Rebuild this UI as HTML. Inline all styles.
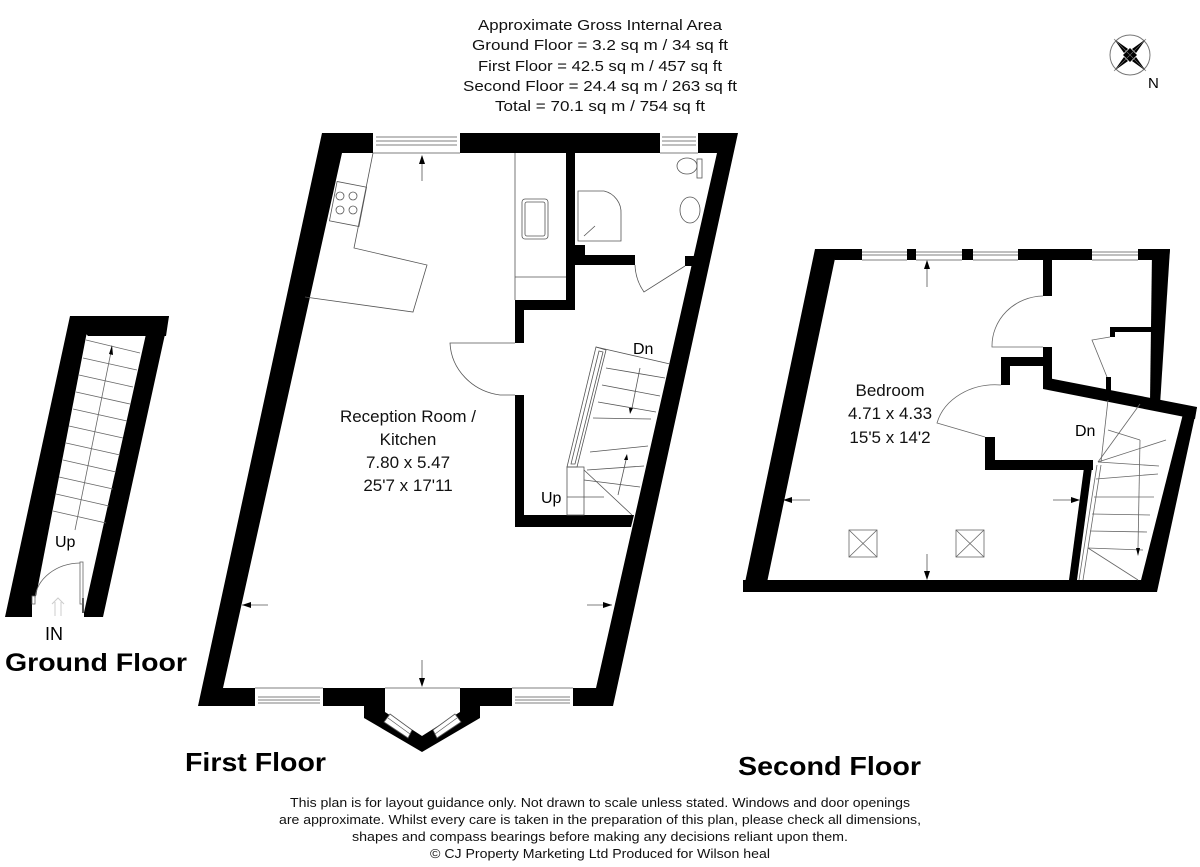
<!DOCTYPE html>
<html><head><meta charset="utf-8"><style>
html,body{margin:0;padding:0;background:#fff;}
svg{display:block;font-family:"Liberation Sans",Arial,sans-serif;}
</style></head><body>
<svg width="1200" height="867" viewBox="0 0 1200 867" xmlns="http://www.w3.org/2000/svg">
<rect width="1200" height="867" fill="#fff"/>

<!-- Header -->
<g font-size="15" text-anchor="middle" fill="#111">
<text x="600" y="30" textLength="244" lengthAdjust="spacingAndGlyphs">Approximate Gross Internal Area</text>
<text x="600" y="50" textLength="256" lengthAdjust="spacingAndGlyphs">Ground Floor = 3.2 sq m / 34 sq ft</text>
<text x="600" y="71" textLength="244" lengthAdjust="spacingAndGlyphs">First Floor = 42.5 sq m / 457 sq ft</text>
<text x="600" y="91" textLength="274" lengthAdjust="spacingAndGlyphs">Second Floor = 24.4 sq m / 263 sq ft</text>
<text x="600" y="111" textLength="210" lengthAdjust="spacingAndGlyphs">Total = 70.1 sq m / 754 sq ft</text>
</g>

<!-- Compass -->
<g transform="translate(1130,55)">
<circle r="20" fill="none" stroke="#777" stroke-width="1"/>
<polygon points="-16,-16 -2,-6 -6,-2" fill="#000"/>
<polygon points="16,-16 6,-2 2,-6" fill="#000"/>
<polygon points="16,16 2,6 6,2" fill="#000"/>
<polygon points="-16,16 -6,2 -2,6" fill="#000"/>
<polygon points="0,-7 7,0 0,7 -7,0" fill="#000"/>
<g stroke="#777" stroke-width="0.6"><line x1="-16" y1="-16" x2="16" y2="16"/><line x1="16" y1="-16" x2="-16" y2="16"/></g>
<text x="18" y="33" font-size="15">N</text>
</g>

<!-- ================= FIRST FLOOR ================= -->
<path fill-rule="evenodd" fill="#000" d="M322,133 L738,133 L613,706 L198,706 Z M342,153 L717,153 L596,688 L223,688 Z"/>
<!-- top windows -->
<rect x="373" y="133" width="87" height="20" fill="#fff"/>
<g stroke="#555" stroke-width="0.8"><line x1="376" y1="137" x2="457" y2="137"/><line x1="376" y1="141" x2="457" y2="141"/><line x1="376" y1="145" x2="457" y2="145"/><line x1="373" y1="153" x2="460" y2="153"/></g>
<rect x="660" y="133" width="38" height="20" fill="#fff"/>
<g stroke="#555" stroke-width="0.8"><line x1="662" y1="137" x2="696" y2="137"/><line x1="662" y1="141" x2="696" y2="141"/><line x1="662" y1="145" x2="696" y2="145"/><line x1="660" y1="153" x2="698" y2="153"/></g>
<!-- bottom windows -->
<rect x="255" y="688" width="68" height="18" fill="#fff"/>
<g stroke="#555" stroke-width="0.8"><line x1="255" y1="688" x2="323" y2="688"/><line x1="258" y1="697" x2="320" y2="697"/><line x1="258" y1="700" x2="320" y2="700"/><line x1="258" y1="703" x2="320" y2="703"/></g>
<rect x="512" y="688" width="61" height="18" fill="#fff"/>
<g stroke="#555" stroke-width="0.8"><line x1="512" y1="688" x2="573" y2="688"/><line x1="515" y1="697" x2="570" y2="697"/><line x1="515" y1="700" x2="570" y2="700"/><line x1="515" y1="703" x2="570" y2="703"/></g>
<!-- bay -->
<path fill-rule="evenodd" fill="#000" d="M364,706 L480,706 L480,718 L422,752 L364,718 Z M385,706 L460,706 L460,712 L422,736 L385,712 Z"/>
<rect x="385" y="686" width="75" height="21" fill="#fff"/>
<line x1="385" y1="688" x2="460" y2="688" stroke="#555" stroke-width="0.8"/>
<polygon points="390,714 412,730 408,738 384,722" fill="#fff" stroke="#555" stroke-width="0.8"/>
<polygon points="455,714 433,730 437,738 461,722" fill="#fff" stroke="#555" stroke-width="0.8"/>
<line x1="388" y1="718" x2="410" y2="734" stroke="#555" stroke-width="0.6"/>
<line x1="457" y1="718" x2="435" y2="734" stroke="#555" stroke-width="0.6"/>

<!-- interior walls -->
<g fill="#000">
<rect x="566" y="153" width="9" height="157"/>
<rect x="515" y="300" width="60" height="10"/>
<rect x="515" y="300" width="9" height="43"/>
<rect x="515" y="395" width="9" height="132"/>
<polygon points="515,515 634,515 631,527 515,527"/>
<rect x="575" y="255" width="60" height="10"/>
<rect x="575" y="245" width="10" height="15"/>
<rect x="685" y="256" width="14" height="10"/>
</g>
<!-- kitchen units -->
<g fill="none" stroke="#555" stroke-width="0.8">
<polyline points="373,153 354,248 427,265 413,312 305,297"/>
<rect x="333" y="184" width="30" height="40" transform="rotate(11 348 204)"/>
<circle cx="340" cy="196" r="4"/><circle cx="353" cy="196" r="4"/><circle cx="340" cy="210" r="4"/><circle cx="353" cy="210" r="4"/>
<line x1="515" y1="153" x2="515" y2="300"/>
<line x1="515" y1="277" x2="566" y2="277"/>
<rect x="522" y="199" width="26" height="40" rx="3"/>
<rect x="525" y="202" width="20" height="34" rx="2"/>
<path d="M578,191 L604,191 A22,22 0 0 1 621,214 L621,241 L578,241 Z"/>
<line x1="584" y1="236" x2="595" y2="226"/>
<ellipse cx="687" cy="166" rx="10" ry="8"/>
<rect x="697" y="159" width="5" height="19"/>
<ellipse cx="690" cy="210" rx="10" ry="13"/>
<path d="M635,265 A50,50 0 0 0 644,292 L685,266"/>
<path d="M515,343 L450,343 A58,55 0 0 0 500,395 L515,395"/>
</g>
<!-- stairs first floor -->
<g fill="none" stroke="#555" stroke-width="0.8">
<polygon points="596,347 606,350 577,467 567,467"/>
<polygon points="599,351 603,352 575,464 571,464"/>
<line x1="596" y1="347" x2="670" y2="364"/>
<line x1="606" y1="368" x2="665" y2="378"/>
<line x1="602" y1="385" x2="660" y2="396"/>
<line x1="598" y1="402" x2="656" y2="412"/>
<line x1="593" y1="418" x2="651" y2="419"/>
<line x1="590" y1="452" x2="648" y2="446"/>
<line x1="587" y1="470" x2="644" y2="466"/>
<line x1="584" y1="480" x2="640" y2="487"/>
<rect x="567" y="467" width="17" height="48"/>
<line x1="567" y1="497" x2="604" y2="497"/>
<line x1="584" y1="470" x2="632" y2="515"/>
<line x1="640" y1="368" x2="632" y2="408"/>
<line x1="618" y1="495" x2="626" y2="460"/>
</g>
<polygon points="629,408 633,408 630,414" fill="#000"/>
<polygon points="624,460 628,460 627,454" fill="#000"/>
<text x="633" y="354" font-size="16">Dn</text>
<text x="541" y="503" font-size="16">Up</text>
<!-- arrows -->
<g stroke="#555" stroke-width="0.8"><line x1="422" y1="160" x2="422" y2="181"/><line x1="242" y1="605" x2="268" y2="605"/><line x1="587" y1="605" x2="612" y2="605"/><line x1="422" y1="660" x2="422" y2="684"/></g>
<g fill="#000"><polygon points="422,155 419,164 425,164"/><polygon points="242,605 251,602 251,608"/><polygon points="612,605 603,602 603,608"/><polygon points="422,687 419,678 425,678"/></g>
<g font-size="17" text-anchor="middle" fill="#111">
<text x="408" y="422">Reception Room /</text>
<text x="408" y="445">Kitchen</text>
<text x="408" y="468">7.80 x 5.47</text>
<text x="408" y="491">25'7 x 17'11</text>
</g>
<text x="185" y="771" font-size="26" font-weight="bold" textLength="141" lengthAdjust="spacingAndGlyphs">First Floor</text>

<!-- ================= GROUND FLOOR ================= -->
<g fill="#000">
<polygon points="70,316 169,316 166,336 88,336"/>
<polygon points="70,316 90,316 32,617 5,617"/>
<polygon points="150,316 169,316 103,617 83,617"/>
</g>
<rect x="32" y="596" width="52" height="22" fill="#fff"/>
<rect x="82" y="598" width="2" height="15" fill="#555"/>
<g fill="none" stroke="#666" stroke-width="0.8">
<rect x="32" y="596" width="3" height="8"/>
<rect x="80" y="562" width="3" height="42"/>
<path d="M35,598 A46,38 0 0 1 80,563"/>
<line x1="86" y1="340" x2="140" y2="353"/>
<line x1="83" y1="358" x2="137" y2="370"/>
<line x1="79" y1="375" x2="133" y2="387"/>
<line x1="76" y1="392" x2="130" y2="404"/>
<line x1="73" y1="409" x2="127" y2="421"/>
<line x1="69" y1="426" x2="123" y2="438"/>
<line x1="66" y1="443" x2="120" y2="455"/>
<line x1="63" y1="460" x2="116" y2="472"/>
<line x1="59" y1="477" x2="113" y2="489"/>
<line x1="56" y1="494" x2="109" y2="506"/>
<line x1="53" y1="511" x2="106" y2="523"/>
<line x1="75" y1="530" x2="111" y2="352"/>
</g>
<polygon points="112,345 109,354 113,355" fill="#000"/>
<g fill="none" stroke="#ccc" stroke-width="1"><polyline points="52,604 58,598 64,604"/><line x1="55" y1="602" x2="55" y2="616"/><line x1="61" y1="602" x2="61" y2="616"/></g>
<text x="55" y="547" font-size="16">Up</text>
<text x="45" y="640" font-size="18">IN</text>
<text x="5" y="671" font-size="25" font-weight="bold" textLength="182" lengthAdjust="spacingAndGlyphs">Ground Floor</text>

<!-- ================= SECOND FLOOR ================= -->
<g fill="#000">
<polygon points="815,249 1170,249 1169,260 835,260"/>
<polygon points="815,249 837,249 765,592 743,592"/>
<rect x="743" y="580" width="414" height="12"/>
<polygon points="1152,252 1170,249 1160,405 1150,402"/>
<polygon points="1043,377 1197,407 1195,419 1043,389"/>
<polygon points="1184,410 1197,407 1157,592 1138,592"/>
<rect x="1043" y="260" width="9" height="36"/>
<rect x="1043" y="347" width="9" height="36"/>
<rect x="1001" y="357" width="48" height="9"/>
<rect x="1001" y="357" width="9" height="28"/>
<rect x="985" y="437" width="10" height="33"/>
<rect x="985" y="460" width="108" height="10"/>
<polygon points="1085,460 1093,460 1077,580 1069,580"/>
<rect x="1110" y="327" width="44" height="5"/>
<rect x="1110" y="327" width="5" height="10"/>
<rect x="1106" y="377" width="5" height="14"/>
</g>
<!-- windows second -->
<g>
<rect x="862" y="249" width="45" height="11" fill="#fff"/>
<rect x="916" y="249" width="46" height="11" fill="#fff"/>
<rect x="973" y="249" width="45" height="11" fill="#fff"/>
<rect x="1092" y="249" width="46" height="11" fill="#fff"/>
<g stroke="#555" stroke-width="0.7">
<line x1="862" y1="252" x2="907" y2="252"/><line x1="862" y1="255" x2="907" y2="255"/><line x1="862" y1="260" x2="907" y2="260"/>
<line x1="916" y1="252" x2="962" y2="252"/><line x1="916" y1="255" x2="962" y2="255"/><line x1="916" y1="260" x2="962" y2="260"/>
<line x1="973" y1="252" x2="1018" y2="252"/><line x1="973" y1="255" x2="1018" y2="255"/><line x1="973" y1="260" x2="1018" y2="260"/>
<line x1="1092" y1="252" x2="1138" y2="252"/><line x1="1092" y1="255" x2="1138" y2="255"/><line x1="1092" y1="260" x2="1138" y2="260"/>
</g>
</g>
<g fill="none" stroke="#666" stroke-width="0.8">
<path d="M1043,296 A52,50 0 0 0 992,347 L1043,347"/>
<path d="M1001,385 A60,50 0 0 0 937,423 L985,437"/>
<path d="M1110,337 L1092,340 L1107,377"/>
<line x1="1108" y1="400" x2="1101" y2="462"/>
<line x1="1140" y1="404" x2="1098" y2="462"/>
<line x1="1098" y1="462" x2="1166" y2="440"/>
<line x1="1108" y1="430" x2="1140" y2="440"/>
<line x1="1140" y1="440" x2="1138" y2="548"/>
<line x1="1098" y1="462" x2="1159" y2="466"/>
<line x1="1096" y1="479" x2="1158" y2="474"/>
<line x1="1094" y1="497" x2="1154" y2="497"/>
<line x1="1092" y1="514" x2="1150" y2="515"/>
<line x1="1090" y1="531" x2="1147" y2="532"/>
<line x1="1088" y1="548" x2="1143" y2="550"/>
<line x1="1088" y1="548" x2="1138" y2="580"/>
<line x1="1097" y1="465" x2="1079" y2="580"/>
<line x1="1101" y1="465" x2="1083" y2="580"/>
<rect x="849" y="530" width="28" height="27"/><line x1="849" y1="530" x2="877" y2="557"/><line x1="877" y1="530" x2="849" y2="557"/>
<rect x="956" y="530" width="28" height="27"/><line x1="956" y1="530" x2="984" y2="557"/><line x1="984" y1="530" x2="956" y2="557"/>
</g>
<polygon points="1136,548 1140,548 1138,556" fill="#000"/>
<g stroke="#555" stroke-width="0.8"><line x1="927" y1="265" x2="927" y2="287"/><line x1="785" y1="500" x2="810" y2="500"/><line x1="1053" y1="500" x2="1078" y2="500"/><line x1="927" y1="554" x2="927" y2="577"/></g>
<g fill="#000"><polygon points="927,260 924,269 930,269"/><polygon points="783,500 792,497 792,503"/><polygon points="1080,500 1071,497 1071,503"/><polygon points="927,580 924,571 930,571"/></g>
<text x="1075" y="436" font-size="16">Dn</text>
<g font-size="17" text-anchor="middle" fill="#111">
<text x="890" y="396">Bedroom</text>
<text x="890" y="419">4.71 x 4.33</text>
<text x="890" y="443">15'5 x 14'2</text>
</g>
<text x="738" y="775" font-size="26" font-weight="bold" textLength="183" lengthAdjust="spacingAndGlyphs">Second Floor</text>

<!-- Footer -->
<g font-size="13" text-anchor="middle" fill="#111">
<text x="600" y="807" textLength="620" lengthAdjust="spacingAndGlyphs">This plan is for layout guidance only. Not drawn to scale unless stated. Windows and door openings</text>
<text x="600" y="824" textLength="642" lengthAdjust="spacingAndGlyphs">are approximate. Whilst every care is taken in the preparation of this plan, please check all dimensions,</text>
<text x="600" y="841" textLength="496" lengthAdjust="spacingAndGlyphs">shapes and compass bearings before making any decisions reliant upon them.</text>
<text x="600" y="858" textLength="340" lengthAdjust="spacingAndGlyphs">© CJ Property Marketing Ltd Produced for Wilson heal</text>
</g>
</svg>
</body></html>
